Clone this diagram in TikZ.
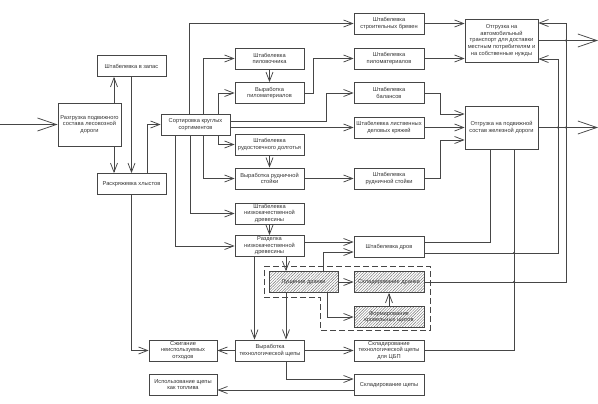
\documentclass[tikz,border=0pt]{standalone}
\usepackage{fontspec}
\setmainfont{Liberation Sans}
\usetikzlibrary{arrows.meta,patterns.meta}
\definecolor{linec}{RGB}{70,70,70}

\begin{document}
\begin{tikzpicture}[x=1pt,y=-1pt,color=linec,line width=0.75pt,
    >={Straight Barb[length=9pt,width=7pt]},
    every node/.style={align=center},
    box/.style={draw=linec,fill=white,minimum width=69pt,minimum height=21pt,inner sep=0.5pt,
      font=\fontsize{5.7}{6.6}\selectfont,text=black!80},
    hatch/.style={box,pattern={Lines[angle=45,distance=2pt,line width=0.45pt]},pattern color=black!55},
    big/.style={-{Straight Barb[length=19pt,width=13pt]}},
    dot/.style={circle,fill=linec,inner sep=0pt,minimum size=2.4pt}]
  \useasboundingbox (0,0) rectangle (598,404);

  % dashed frame round the shingle line
  \draw[dashed,dash pattern=on 6pt off 3pt] (264,266) -- (430,266) -- (430,330) -- (320,330) -- (320,297) -- (264,297) -- cycle;

  \node[box] (zapas) at (131.5,66) {Штабелевка в запас};
  \node[box,minimum width=63pt,minimum height=43pt] (razgr) at (89.5,124.5) {Разгрузка подвижного\\состава лесовозной\\дороги};
  \node[box] (raskr) at (131.5,184) {Раскряжевка хлыстов};
  \node[box] (sort) at (195.5,124.5) {Сортировка круглых\\сортиментов};

  \node[box] (shtPil) at (269.5,58.5) {Штабелевка\\пиловочника};
  \node[box] (vyrPil) at (269.5,93) {Выработка\\пиломатериалов};
  \node[box] (shtRud) at (269.5,144.5) {Штабелевка\\рудостоечного долготья};
  \node[box] (vyrRud) at (269.5,178.5) {Выработка рудничной\\стойки};
  \node[box] (shtNiz) at (269.5,213.5) {Штабелевка\\низкокачественной\\древесины};
  \node[box] (razd) at (269.5,246) {Разделка\\низкокачественной\\древесины};
  \node[hatch] (lushch) at (303.5,282) {Лущение дранки};
  \node[box] (vyrTech) at (270,350.5) {Выработка\\технологической щепы};
  \node[box,minimum width=68pt] (szhig) at (183,350.5) {Сжигание\\неиспользуемых\\отходов};
  \node[box,minimum width=68pt] (ispol) at (183,384.5) {Использование щепы\\как топлива};

  \node[box,minimum width=70pt] (shtStr) at (389,23.5) {Штабелевка\\строительных бревен};
  \node[box,minimum width=70pt] (shtPilm) at (389,58.5) {Штабелевка\\пиломатериалов};
  \node[box,minimum width=70pt] (shtBal) at (389,93) {Штабелевка\\балансов};
  \node[box,minimum width=70pt] (shtList) at (389,127.5) {Штабелевка лиственных\\деловых кряжей};
  \node[box,minimum width=70pt] (shtRudSt) at (389,178.5) {Штабелевка\\рудничной стойки};
  \node[box,minimum width=70pt] (shtDrov) at (389,247) {Штабелевка дров};
  \node[hatch,minimum width=70pt] (sklDr) at (389,282) {Складирование дранки};
  \node[hatch,minimum width=70pt] (form) at (389,317) {Формирование\\кровельных щитов};
  \node[box,minimum width=70pt] (sklCbp) at (389,350.5) {Складирование\\технологической щепы\\для ЦБП};
  \node[box,minimum width=70pt] (sklShch) at (389,385) {Складирование щепы};

  \node[box,minimum width=73pt,minimum height=43pt] (otgAvto) at (501.5,40.5) {Отгрузка на\\автомобильный\\транспорт для доставки\\местным потребителям и\\на собственные нужды};
  \node[box,minimum width=73pt,minimum height=43pt] (otgZhd) at (501.5,127.5) {Отгрузка на подвижной\\состав железной дороги};

  \coordinate (in) at (0,124.5);
  \coordinate (out) at (598,0);
  \coordinate (vA) at (490,0);
  \coordinate (vB) at (514,0);
  \coordinate (vC) at (558,0);
  \coordinate (vD) at (566,0);
  \coordinate (sa) at ([yshift=-18.5]otgAvto.east);
  \coordinate (sb) at ([yshift=17.5]otgAvto.east);

  % unloading and bucking
  \draw[big] (in) -- (razgr);
  \draw[->] ([xshift=24.5]razgr.north) -- ([xshift=24.5]razgr.north |- zapas.south);
  \draw[->] ([xshift=24.5]razgr.south) -- ([xshift=24.5]razgr.south |- raskr.north);
  \draw[->] (zapas) -- (raskr);
  \draw[->] ([xshift=15.5]raskr.north) |- (sort);
  \draw[->] (raskr.south) |- (szhig);

  % sorting
  \draw[->] ([xshift=-6.5]sort.north) |- (shtStr);
  \draw[->] ([xshift=7.5]sort.north) |- (shtPil);
  \draw[->] ([xshift=22.5]sort.north) |- (vyrPil);
  \draw[->] ([yshift=3.5]sort.east) -- ++(96,0) |- (shtBal);
  \draw[->] (sort.east |- shtList) -- (shtList);
  \draw[->] ([xshift=22.5]sort.south) |- (shtRud);
  \draw[->] ([xshift=7.5]sort.south) |- (vyrRud);
  \draw[->] ([xshift=-5.5]sort.south) |- (shtNiz);
  \draw[->] ([xshift=-20.5]sort.south) |- (razd);

  \draw[->] (shtPil) -- (vyrPil);
  \draw[->] (vyrPil.east) -- ++(9,0) |- (shtPilm);
  \draw[->] (shtRud) -- (vyrRud);
  \draw[->] (vyrRud) -- (shtRudSt);
  \draw[->] (shtNiz) -- (razd);

  % low grade wood
  \draw[->] ([yshift=4]razd.east) -- ([yshift=4]razd.east -| shtDrov.west);
  \draw[->] ([xshift=19.5]lushch.north) |- ([yshift=-5]shtDrov.west);
  \draw[->] ([xshift=16.5]razd.south) -- ([xshift=16.5]razd.south |- lushch.north);
  \draw[->] ([xshift=-15]razd.south) -- ([xshift=-15]razd.south |- vyrTech.north);
  \draw[->] ([xshift=-17.5]lushch.south) -- ([xshift=-17.5]lushch.south |- vyrTech.north);
  \draw[->] (lushch) -- (sklDr);
  \draw[->] (form) -- (sklDr);
  \draw[->] ([xshift=23.5]lushch.south) |- (form);
  \draw[->] (vyrTech) -- (szhig);
  \draw[->] (vyrTech) -- (sklCbp);
  \draw[->] ([xshift=16]vyrTech.south) |- ([yshift=6]sklShch.west);
  \draw[->] ([yshift=-5]sklShch.west) -- ([yshift=-5]sklShch.west -| ispol.east);

  % shipping
  \draw[->] (shtStr.east) -- (shtStr.east -| otgAvto.west);
  \draw[->] (shtPilm.east) -- (shtPilm.east -| otgAvto.west);
  \draw[->] (shtBal.east) -- ++(16,0) |- ([yshift=13.5]otgZhd.west);
  \draw[->] (shtList) -- (otgZhd);
  \draw[->] (shtRudSt.east) -- ++(16,0) |- ([yshift=-12.5]otgZhd.west);
  \draw ([yshift=5]shtDrov.east) -| (vA |- otgZhd.south);
  \draw (sklCbp.east) -| (vB |- otgZhd.south);
  \draw[->] ([yshift=-6]shtDrov.east) -| (vC |- sa) -- (sa);
  \draw[->] (sklDr.east) -| (vD |- sb) -- (sb);
  \draw[big] (otgAvto.east) -- (otgAvto.east -| out);
  \draw[big] (otgZhd.east) -- (otgZhd.east -| out);

  \node[dot] at ([yshift=-6]shtDrov.east -| vB) {};
  \node[dot] at (sklDr.east -| vB) {};
  \node[dot] at (otgZhd.east -| vC) {};
  \node[dot] at (otgZhd.east -| vD) {};
  \node[dot] at (otgAvto.east -| vD) {};
\end{tikzpicture}
\end{document}
